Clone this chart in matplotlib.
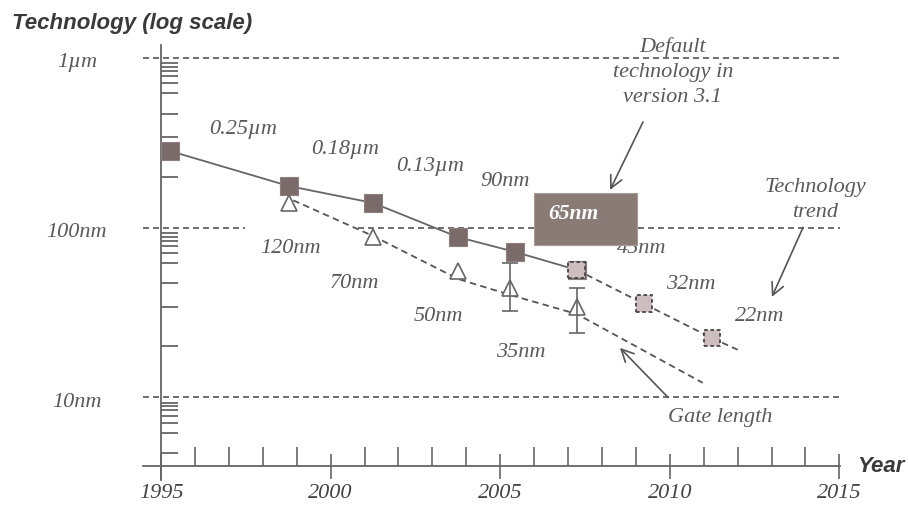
import matplotlib
matplotlib.use("Agg")
import matplotlib.pyplot as plt
from matplotlib.patches import Rectangle
from matplotlib.ticker import FixedLocator, NullFormatter

# technology nodes (squares) on the trend line
trend_years = [1995.27, 1998.77, 2001.25, 2003.76, 2005.44, 2007.26]
trend_nm = [283, 176, 140, 88, 72, 56.4]
# projected nodes (light squares) and the dashed trend continuation
future_years = [2007.26, 2009.24, 2011.24]
future_nm = [56.4, 35.6, 22.4]
future_line_years = [2007.26, 2009.24, 2011.24, 2012.0]
future_line_nm = [56.4, 35.6, 22.4, 19.1]

# gate length (triangles) and its dashed line
gate_years = [1998.77, 2001.25, 2003.76, 2005.29, 2007.26]
gate_nm = [140, 88.2, 55.6, 44.2, 34.1]
gate_line_years = [1998.9, 2001.25, 2003.76, 2005.29, 2007.26, 2010.97]
gate_line_nm = [145, 89.4, 49.9, 40.2, 31.0, 12.2]

# uncertainty bars on the last two gate lengths
err_years = [2005.29, 2007.26]
err_mid = [44.2, 34.1]
err_low = [32.5, 24.0]
err_high = [62.0, 44.2]

# node labels
node_labels = ["0.25µm", "0.18µm", "0.13µm", "90nm", "45nm", "32nm", "22nm"]
node_label_years = [1997.42, 2000.42, 2002.93, 2005.14, 2009.18, 2010.62, 2012.66]
node_label_nm = [377, 287, 228, 186, 75, 46, 29.8]
gate_labels = ["120nm", "70nm", "50nm", "35nm"]
gate_label_years = [1998.83, 2000.69, 2003.17, 2005.61]
gate_label_nm = [75, 46.7, 29.8, 18.5]

# default technology box
box_years = [2006.0, 2009.03]
box_nm = [79, 160]
box_label = "65nm"
box_label_year, box_label_nm = 2007.15, 120.5

# horizontal reference lines: value and spans in years
ref_nm = [1000, 100, 10]
ref_labels = ["1µm", "100nm", "10nm"]
ref_spans = [[(1994.47, 2015.03)],
             [(1994.47, 1997.48), (2000.81, 2015.03)],
             [(1994.47, 2015.03)]]

# y minor tick multipliers per decade (as drawn in the original)
minor_mult = [2.0, 3.4, 4.7, 6.2, 7.1, 7.8, 8.4, 8.85, 9.3]
decades = [1, 10, 100]

year_ticks = [1995, 2000, 2005, 2010, 2015]

GRAY = "#5a5a5a"
LINE = "#666666"
serif = dict(family="Liberation Serif", style="italic", color=GRAY, fontsize=16)

fig = plt.figure(figsize=(9.08, 5.12), dpi=100)
ax = fig.add_axes([140 / 908, 27 / 512, 705 / 908, 445 / 512])
ax.set_yscale("log")
ax.set_xlim(1994.381, 2015.165)
ax.set_ylim(3.05, 1276)

# spines
for s in ["top", "right"]:
    ax.spines[s].set_visible(False)
ax.spines["left"].set_position(("data", 1995))
ax.spines["left"].set_bounds(3.27, 1193)
ax.spines["bottom"].set_position(("data", 3.95))
ax.spines["bottom"].set_bounds(1994.47, 2015.03)
for s in ["left", "bottom"]:
    ax.spines[s].set_color(LINE)
    ax.spines[s].set_linewidth(1.3)

# x ticks
ax.xaxis.set_major_locator(FixedLocator(year_ticks))
ax.xaxis.set_minor_locator(FixedLocator([y for y in range(1996, 2015) if y % 5]))
ax.set_xticklabels([str(y) for y in year_ticks])
ax.tick_params(axis="x", which="major", direction="inout", length=18, width=1.2,
               color=LINE, pad=4)
ax.tick_params(axis="x", which="minor", direction="in", length=13.7, width=1.2,
               color=LINE)
for lab in ax.get_xticklabels():
    lab.set_family("Liberation Serif")
    lab.set_style("italic")
    lab.set_fontsize(16)
    lab.set_color("#444444")

# y ticks
ax.yaxis.set_major_locator(FixedLocator([]))
minor_vals = [m * d for d in decades for m in minor_mult if m * d > 4.0]
ax.yaxis.set_minor_locator(FixedLocator(minor_vals))
ax.yaxis.set_minor_formatter(NullFormatter())
ax.tick_params(axis="y", which="minor", direction="in", length=12.2, width=1.3,
               color=LINE)

# reference lines
for val, lab, spans in zip(ref_nm, ref_labels, ref_spans):
    for a, b in spans:
        ax.plot([a, b], [val, val], color="#555555", lw=1.2,
                linestyle=(0, (3.6, 2.4)), zorder=1)
    ax.annotate(lab, xy=(1995, val), xytext=(-84, -5), textcoords="offset pixels",
                ha="center", va="center", **serif)

# trend lines
ax.plot(trend_years, trend_nm, color=LINE, lw=1.3, zorder=2)
ax.plot(future_line_years, future_line_nm, color="#555555", lw=1.3,
        linestyle=(0, (3.6, 2.4)), zorder=2)
ax.plot(gate_line_years, gate_line_nm, color="#555555", lw=1.3,
        linestyle=(0, (3.6, 2.4)), zorder=2)

ax.plot(trend_years, trend_nm, linestyle="none", marker="s", markersize=12.5,
        markerfacecolor="#7b6a6a", markeredgecolor="#8e7e7e", markeredgewidth=0.8,
        zorder=4)
ax.scatter(future_years, future_nm, marker="s", s=145, facecolor="#cdbdbf",
           edgecolor="#444444", linewidths=1.3, linestyle=(0, (2, 1.5)), zorder=4)

ax.plot(gate_years, gate_nm, linestyle="none", marker="^", markersize=12,
        markerfacecolor="white", markeredgecolor=LINE, markeredgewidth=1.2, zorder=4)
ax.errorbar(err_years, err_mid,
            yerr=[[m - l for m, l in zip(err_mid, err_low)],
                  [h - m for m, h in zip(err_mid, err_high)]],
            fmt="none", ecolor=LINE, elinewidth=1.2, capsize=6, capthick=1.2, zorder=5)

# node labels
for lab, x, y in zip(node_labels, node_label_years, node_label_nm):
    ax.text(x, y, lab, ha="center", va="center", zorder=3, **serif)
for lab, x, y in zip(gate_labels, gate_label_years, gate_label_nm):
    ax.text(x, y, lab, ha="center", va="center", zorder=3, **serif)

# default technology box
ax.add_patch(Rectangle((box_years[0], box_nm[0]), box_years[1] - box_years[0],
                       box_nm[1] - box_nm[0], facecolor="#8b7b77",
                       edgecolor="#a89a96", lw=0.8, zorder=6))
ax.text(box_label_year, box_label_nm, box_label, ha="center", va="center",
        family="Liberation Serif", style="italic", weight="bold", fontsize=15.5,
        color="white", zorder=7)

# annotations with arrows
arrow = dict(arrowstyle="->", color="#555555", lw=1.2, mutation_scale=22,
             shrinkA=0, shrinkB=0)
ax.annotate("", xy=(2008.24, 167), xytext=(2009.21, 420), arrowprops=arrow)
ax.text(2010.09, 827, "Default\ntechnology in\nversion 3.1", ha="center",
        va="center", linespacing=1.45, **serif)
ax.annotate("", xy=(2013.01, 39.1), xytext=(2013.93, 100.5), arrowprops=arrow)
ax.text(2014.28, 145.7, "Technology\ntrend", ha="center", va="center",
        linespacing=1.45, **serif)
ax.annotate("", xy=(2008.53, 19.6), xytext=(2009.95, 10), arrowprops=arrow)
ax.text(2011.48, 7.57, "Gate length", ha="center", va="center", **serif)

# axis titles
fig.text(12 / 908, 1 - 23 / 512, "Technology (log scale)", ha="left", va="center",
         family="Liberation Sans", style="italic", weight="bold", fontsize=16,
         color="#3a3a3a")
fig.text(857 / 908, 1 - 467 / 512, "Year", ha="left", va="center",
         family="Liberation Sans", style="italic", weight="bold", fontsize=16,
         color="#3a3a3a")

fig.savefig("out.png", dpi=100)
